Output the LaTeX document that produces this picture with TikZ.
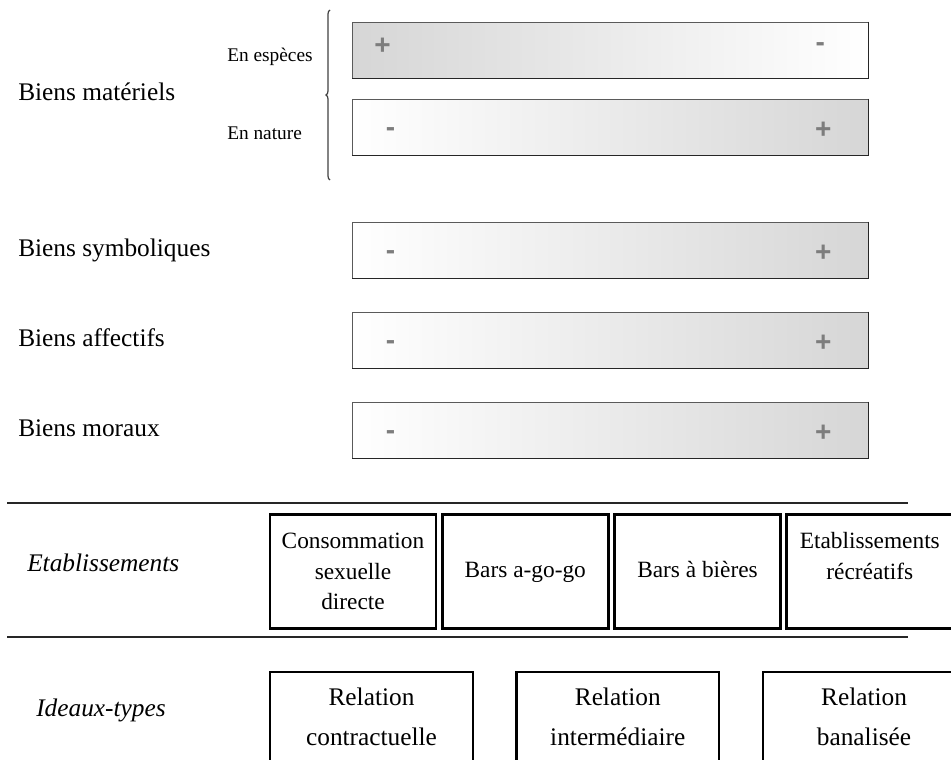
\documentclass[tikz,border=0pt]{standalone}
\usepackage{fontspec}
\setmainfont{Liberation Serif}
\setsansfont{Liberation Sans}
\usepackage{tikz}
\usetikzlibrary{positioning,calc,decorations.pathreplacing}
\definecolor{barline}{RGB}{90,90,90}
\definecolor{barshade}{RGB}{214,214,214}
\definecolor{signgray}{RGB}{125,125,125}
\newlength{\bw}
\setlength{\bw}{387pt}
\newlength{\bh}
\setlength{\bh}{42pt}
\newlength{\ew}
\setlength{\ew}{124.5pt}
\newlength{\eh}
\setlength{\eh}{86pt}
\newlength{\iw}
\setlength{\iw}{152pt}
\newlength{\ih}
\setlength{\ih}{66.75pt}
\tikzset{
  bar/.style     ={draw=barline,rectangle,line width=0.6pt,
                   minimum width=\bw,minimum height=\bh,inner sep=0pt},
  barup/.style   ={bar,left color=white,right color=barshade},
  bardown/.style ={bar,left color=barshade,right color=white},
  barshadow/.style={draw=black!85,line width=1.3pt},
  sign/.style    ={text=signgray,font=\sffamily\bfseries\fontsize{21}{21}\selectfont,
                   inner sep=0pt},
  bien/.style    ={anchor=west,inner sep=0pt,font=\fontsize{19}{22}\selectfont},
  sous/.style    ={anchor=west,inner sep=0pt,font=\fontsize{14.5}{17}\selectfont},
  rubrique/.style={anchor=west,inner sep=0pt,font=\itshape\fontsize{19}{22}\selectfont},
  etab/.style    ={draw,rectangle,line width=2.2pt,minimum width=\ew,minimum height=\eh,
                   align=center,font=\fontsize{17.5}{23}\selectfont},
  ideal/.style   ={draw,rectangle,line width=1.7pt,minimum width=\iw,minimum height=\ih,
                   align=center,font=\fontsize{19}{30}\selectfont},
  accolade/.style={decorate,decoration={brace,amplitude=3pt,aspect=0.5},
                   draw=black!75,line width=0.9pt},
  rule/.style    ={draw=black!85,line width=1.5pt}
}

\begin{document}
\begin{tikzpicture}[x=0.75pt,y=-0.75pt]
\useasboundingbox (0,0) rectangle (951,760);

% echelles
\node[bardown] (mat1) at (610,50) {};
\node[barup]   (mat2) at ($(mat1)+(0,77)$) {};
\node[barup]   (symb) at (610,250) {};
\node[barup]   (affe) at ($(symb)+(0,90)$) {};
\node[barup]   (mora) at ($(affe)+(0,90)$) {};

\foreach \b in {mat1,mat2,symb,affe,mora}
  \draw[barshadow] (\b.north east) -- (\b.south east) -- (\b.south west);

\node[sign] (mat1g) at ($(mat1.west)+(31,-4)$) {+};
\node[sign] (mat1d) at ($(mat1.east)+(-48,-3)$) {-};
\foreach \b in {mat2,symb,affe,mora}{
  \node[sign] (\b g) at ($(\b.west)+(39,5)$) {-};
  \node[sign] (\b d) at ($(\b.east)+(-45,3)$) {+};
}

\node[bien] (lmat)  at (18,92)  {Biens matériels};
\node[sous] (lesp)  at (227,57) {En espèces};
\node[sous] (lnat)  at (227,133){En nature};
\node[bien] (lsymb) at (18,250) {Biens symboliques};
\node[bien] (laffe) at (18,338) {Biens affectifs};
\node[bien] (lmora) at (18,428) {Biens moraux};

\coordinate (accb) at (330,180);
\coordinate (acch) at (330,10);
\draw[accolade] (accb) -- (acch);

% etablissements
\coordinate (r1a) at (7,503);
\coordinate (r1b) at (908,503);
\coordinate (r2a) at (7,637);
\coordinate (r2b) at (908,637);
\draw[rule] (r1a) -- (r1b);
\draw[rule] (r2a) -- (r2b);

\node[rubrique] (letab) at (27,563) {Etablissements};
\node[etab] (e1) at (353,571.5) {Consommation\\sexuelle\\directe};
\node[etab,right=2.5pt of e1] (e2) {\strut Bars a-go-go};
\node[etab,right=2.5pt of e2] (e3) {\strut Bars à bières};
\node[etab,right=2.5pt of e3] (e4) {Etablissements\\récréatifs\\~};

% ideaux-types
\node[rubrique] (lideal) at (36,710) {Ideaux-types};
\node[ideal] (i1) at (371.5,716.5) {Relation\\contractuelle};
\node[ideal,right=31pt of i1] (i2) {Relation\\intermédiaire};
\node[ideal,right=31pt of i2] (i3) {Relation\\banalisée};

\end{tikzpicture}
\end{document}
